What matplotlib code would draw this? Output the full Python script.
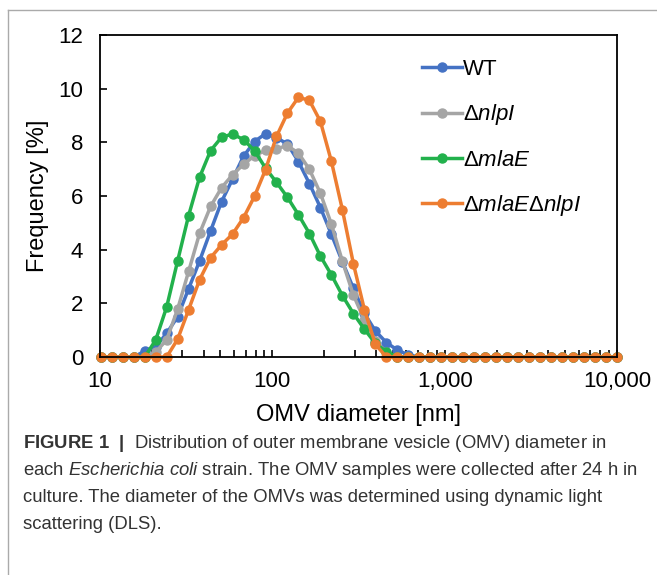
import matplotlib
matplotlib.use('Agg')
import matplotlib.pyplot as plt
from matplotlib.ticker import FixedLocator, FixedFormatter, NullFormatter, LogLocator
from matplotlib.lines import Line2D

plt.rcParams['font.family'] = ['Liberation Sans', 'DejaVu Sans']
plt.rcParams['mathtext.fontset'] = 'custom'
plt.rcParams['mathtext.it'] = 'Liberation Sans:italic'
plt.rcParams['mathtext.bf'] = 'Liberation Sans:bold'
plt.rcParams['mathtext.rm'] = 'Liberation Sans'

# DLS size bins (nm)
diameter = [10.1, 11.7, 13.54, 15.69, 18.17, 21.04, 24.36, 28.21, 32.67, 37.84,
            43.82, 50.75, 58.77, 68.06, 78.82, 91.28, 105.7, 122.4, 141.8, 164.2,
            190.1, 220.2, 255.0, 295.3, 342.0, 396.1, 458.7, 531.2, 615.1, 712.4,
            825.0, 955.4, 1106, 1281, 1484, 1718, 1990, 2305, 2669, 3091,
            3580, 4145, 4801, 5560, 6439, 7456, 8635, 10000]

wt = [0, 0, 0, 0, 0.22, 0.38, 0.88, 1.5, 2.54, 3.58,
      4.7, 5.79, 6.63, 7.48, 8.03, 8.32, 8.17, 7.94, 7.28, 6.46,
      5.57, 4.57, 3.55, 2.56, 1.63, 0.97, 0.54, 0.26, 0.08] + [0] * 19
nlpi = [0, 0, 0, 0, 0, 0.18, 0.64, 1.78, 3.19, 4.61,
        5.61, 6.31, 6.79, 7.18, 7.5, 7.7, 7.77, 7.87, 7.6, 6.99,
        6.1, 4.95, 3.57, 2.31, 1.38, 0.6, 0.18] + [0] * 21
mlae = [0, 0, 0, 0, 0, 0.63, 1.86, 3.58, 5.27, 6.7,
        7.69, 8.19, 8.31, 8.1, 7.69, 7.04, 6.51, 5.95, 5.3, 4.6,
        3.76, 3.06, 2.29, 1.62, 1.04, 0.51, 0.2] + [0] * 21
mlae_nlpi = [0, 0, 0, 0, 0, 0, 0, 0.66, 1.76, 2.88,
             3.7, 4.18, 4.58, 5.19, 5.99, 6.98, 8.22, 9.09, 9.68, 9.56,
             8.78, 7.29, 5.49, 3.48, 1.77, 0.48] + [0] * 22

series = [
    (wt, 'WT', '#4472C4'),
    (nlpi, r'Δ$\mathit{nlpI}$', '#A5A5A5'),
    (mlae, r'Δ$\mathit{mlaE}$', '#22B14C'),
    (mlae_nlpi, r'Δ$\mathit{mlaE}$Δ$\mathit{nlpI}$', '#ED7D31'),
]

fig = plt.figure(figsize=(6.57, 5.75), dpi=100)
ax = fig.add_axes([100 / 657, 1 - 357 / 575, 517 / 657, 322 / 575])

for vals, lab, col in series:
    ax.plot(diameter, vals, '-o', color=col, label=lab, linewidth=2.5,
            markersize=6.5, clip_on=False)

ax.set_xscale('log')
ax.set_xlim(10, 10000)
ax.set_ylim(0, 12)
ax.set_yticks([0, 2, 4, 6, 8, 10, 12])
ax.xaxis.set_major_locator(FixedLocator([10, 100, 1000, 10000]))
ax.xaxis.set_major_formatter(FixedFormatter(['10', '100', '1,000', '10,000']))
ax.xaxis.set_minor_locator(LogLocator(base=10, subs=range(2, 10)))
ax.xaxis.set_minor_formatter(NullFormatter())
ax.tick_params(axis='both', which='major', direction='in', length=5, width=1.2,
               labelsize=16)
ax.tick_params(axis='x', which='major', pad=10)
ax.tick_params(axis='x', which='minor', direction='in', length=5, width=1.2)
ax.tick_params(axis='y', which='major', pad=12)
for s in ax.spines.values():
    s.set_linewidth(1.3)

ax.set_xlabel('OMV diameter [nm]', fontsize=17, labelpad=9)
ax.set_ylabel('Frequency [%]', fontsize=17, labelpad=7)

leg = ax.legend(loc='upper left', bbox_to_anchor=(0.623, 0.925), frameon=False,
                fontsize=16, handlelength=1.8, handletextpad=0.05,
                labelspacing=1.0, borderaxespad=0, borderpad=0)

# figure panel border
fig.add_artist(Line2D([8 / 657, 1], [1 - 10 / 575, 1 - 10 / 575], color='#aaaaaa', lw=1))
fig.add_artist(Line2D([8 / 657, 8 / 657], [0, 1 - 10 / 575], color='#aaaaaa', lw=1))

caption = [
    r'$\mathbf{FIGURE\ 1\ \ |}$  Distribution of outer membrane vesicle (OMV) diameter in',
    r'each $\mathit{Escherichia\ coli}$ strain. The OMV samples were collected after 24 h in',
    'culture. The diameter of the OMVs was determined using dynamic light',
    'scattering (DLS).',
]
for i, line in enumerate(caption):
    fig.text(23 / 657, 1 - (448 + i * 27) / 575, line, fontsize=13.3,
             color='#333333', va='baseline', ha='left')

fig.savefig('out.png', dpi=100)
